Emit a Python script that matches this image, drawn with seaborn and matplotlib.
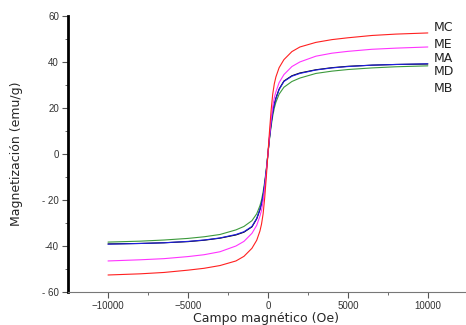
import pandas as pd
import matplotlib.pyplot as plt
import seaborn as sns

# Campo magnético (Oe)
campo = [-10000, -8000, -6500, -5000, -4000, -3000, -2000, -1500, -1000, -700, -500, -400, -300, -200, -100,
         0, 100, 200, 300, 400, 500, 700, 1000, 1500, 2000, 3000, 4000, 5000, 6500, 8000, 10000]

# Magnetización (emu/g) por muestra
mc = [-52.6, -52.1, -51.5, -50.5, -49.7, -48.5, -46.5, -44.5, -41.0, -37.5, -33.5, -30.5, -26.0, -19.0, -10.0,
      0.0, 10.0, 19.0, 26.0, 30.5, 33.5, 37.5, 41.0, 44.5, 46.5, 48.5, 49.7, 50.5, 51.5, 52.1, 52.6]
me = [-46.5, -46.0, -45.5, -44.6, -43.8, -42.5, -40.0, -38.0, -34.5, -31.0, -27.0, -24.5, -20.5, -15.0, -8.0,
      0.0, 8.0, 15.0, 20.5, 24.5, 27.0, 31.0, 34.5, 38.0, 40.0, 42.5, 43.8, 44.6, 45.5, 46.0, 46.5]
ma = [-39.2, -38.9, -38.6, -38.0, -37.4, -36.5, -35.0, -33.8, -31.5, -28.0, -24.0, -21.5, -18.0, -13.0, -7.0,
      0.0, 7.0, 13.0, 18.0, 21.5, 24.0, 28.0, 31.5, 33.8, 35.0, 36.5, 37.4, 38.0, 38.6, 38.9, 39.2]
md = [-39.1, -38.9, -38.6, -38.1, -37.5, -36.6, -35.2, -34.0, -31.7, -28.2, -24.3, -21.8, -18.3, -13.5, -7.3,
      0.0, 7.3, 13.5, 18.3, 21.8, 24.3, 28.2, 31.7, 34.0, 35.2, 36.6, 37.5, 38.1, 38.6, 38.9, 39.1]
mb = [-38.3, -37.9, -37.4, -36.7, -36.0, -35.0, -33.0, -31.5, -29.0, -26.0, -22.5, -20.0, -16.5, -12.0, -6.5,
      0.0, 6.5, 12.0, 16.5, 20.0, 22.5, 26.0, 29.0, 31.5, 33.0, 35.0, 36.0, 36.7, 37.4, 37.9, 38.3]

muestras = ["MB", "MD", "MA", "ME", "MC"]
valores = {"MB": mb, "MD": md, "MA": ma, "ME": me, "MC": mc}
colores = {"MB": "#3c9a3c", "MD": "black", "MA": "#1f1fe0", "ME": "#ff33ff", "MC": "#ff2020"}

# posición de las etiquetas (en unidades de datos)
etiquetas = ["MC", "ME", "MA", "MD", "MB"]
etiq_y = [55.0, 47.4, 41.3, 36.0, 28.6]

df = pd.concat([pd.DataFrame({"H": campo, "M": valores[m], "muestra": m}) for m in muestras])

sns.set_style("white")
fig = plt.figure(figsize=(4.66, 3.25), dpi=100)
ax = fig.add_axes([0.146, 0.1015, 0.851, 0.8495])

for m in muestras:
    sns.lineplot(data=df[df["muestra"] == m], x="H", y="M", color=colores[m], lw=0.8, ax=ax,
                 legend=False, sort=False)

for t, y in zip(etiquetas, etiq_y):
    ax.text(10400, y, t, fontsize=9, family="DejaVu Sans", va="center", ha="left", color="#222222")

ax.set_xlim(-12500, 12300)
ax.set_ylim(-60, 60)
ax.set_xticks([-10000, -5000, 0, 5000, 10000])
ax.set_xticks([-7500, -2500, 2500, 7500], minor=True)
ax.set_yticks(range(-60, 61, 20))
ax.set_yticks(range(-50, 51, 20), minor=True)
ax.set_yticklabels(["- 60", "-40", "- 20", "0", "20", "40", "60"])

ax.tick_params(axis="both", which="major", direction="out", length=4, width=0.8, labelsize=7,
               labelcolor="#333333", color="#555555", left=True, bottom=True, pad=2.5)
ax.tick_params(axis="both", which="minor", direction="out", length=2.5, width=0.6, color="#555555",
               left=True, bottom=True)
for lbl in ax.get_xticklabels() + ax.get_yticklabels():
    lbl.set_family("Liberation Sans")

ax.spines["top"].set_visible(False)
ax.spines["right"].set_visible(False)
ax.spines["left"].set_linewidth(2)
ax.spines["left"].set_color("black")
ax.spines["bottom"].set_linewidth(0.8)
ax.spines["bottom"].set_color("#777777")

ax.set_xlabel("Campo magnético (Oe)", fontsize=9, family="DejaVu Sans", labelpad=1)
ax.set_ylabel("Magnetización (emu/g)", fontsize=9, family="Liberation Sans Narrow", labelpad=14)

plt.savefig("out.png", dpi=100)
plt.close()
